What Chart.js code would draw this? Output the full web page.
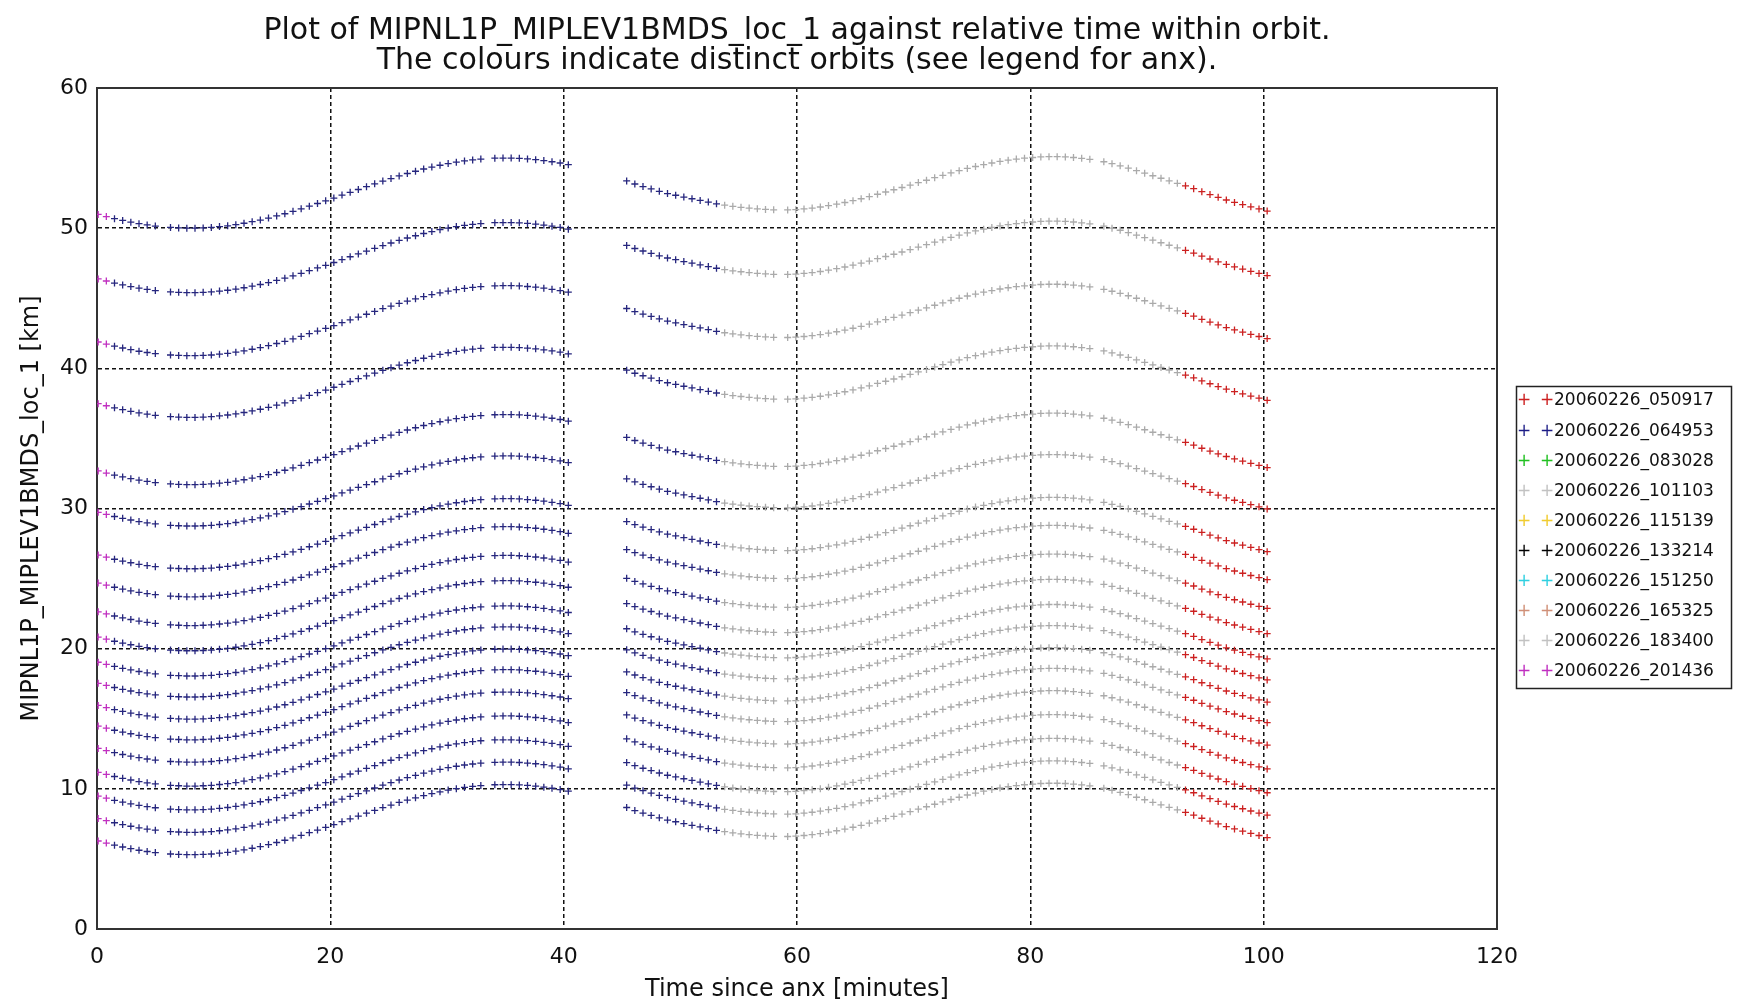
<!DOCTYPE html>
<html>
<head>
<meta charset="utf-8">
<title>MIPNL1P_MIPLEV1BMDS_loc_1</title>
<script src="https://cdn.jsdelivr.net/npm/chart.js@4.4.1/dist/chart.umd.min.js"></script>
<style>
html, body { margin: 0; padding: 0; background: #fff; }
#plot { display: block; }
</style>
</head>
<body>
<canvas id="plot" width="1763" height="1005"></canvas>
<script>
const titleLines = [
    "Plot of MIPNL1P_MIPLEV1BMDS_loc_1 against relative time within orbit.",
    "The colours indicate distinct orbits (see legend for anx)."
]

// orbits (anx) shown in the legend
const orbitIds = [
    "20060226_050917", "20060226_064953", "20060226_083028", "20060226_101103", "20060226_115139",
    "20060226_133214", "20060226_151250", "20060226_165325", "20060226_183400", "20060226_201436"
]
const orbitColours = ["#cc2020", "#1c1c86", "#22c022", "#c2c2c2", "#f0cc30", "#000000", "#30d0e0", "#d09078", "#c2c2c2", "#c030c0"]

// tangent height of each sweep at the bottom of the wave [km]
const levels = [50.0, 45.4, 40.9, 36.5, 31.7, 28.75, 25.7, 23.7, 21.65, 19.85, 18.05, 16.55, 14.97, 13.5, 11.9, 10.2, 8.5, 6.9, 5.3]

// scan times since anx [minutes] and the height change along the orbit [km]
const times = [
    0.1, 0.8, 1.5, 2.2, 2.9, 3.6, 4.3, 5.0,
    6.3, 7.0, 7.7, 8.4, 9.1, 9.8, 10.5, 11.2, 11.9, 12.6, 13.3, 14.0, 14.7, 15.4, 16.1, 16.8, 17.5, 18.2, 18.9, 19.6,
    20.3, 21.0, 21.7, 22.4, 23.1, 23.8, 24.5, 25.2, 25.9, 26.6, 27.3, 28.0, 28.7, 29.4, 30.1, 30.8, 31.5, 32.2, 32.9,
    34.1, 34.8, 35.5, 36.2, 36.9, 37.6, 38.3, 39.0, 39.7, 40.4,
    45.4, 46.1, 46.8, 47.5, 48.2, 48.9, 49.6, 50.3, 51.0, 51.7, 52.4, 53.1,
    53.8, 54.5, 55.2, 55.9, 56.6, 57.3, 58.0,
    59.2, 59.9, 60.6, 61.3, 62.0, 62.7, 63.4, 64.1, 64.8, 65.5, 66.2, 66.9, 67.6, 68.3, 69.0, 69.7, 70.4, 71.1, 71.8,
    72.5, 73.2, 73.9, 74.6, 75.3, 76.0, 76.7, 77.4, 78.1, 78.8, 79.5, 80.2, 80.9, 81.6, 82.3, 83.0, 83.7, 84.4, 85.1,
    86.3, 87.0, 87.7, 88.4, 89.1, 89.8, 90.5, 91.2, 91.9, 92.6,
    93.3, 94.0, 94.7, 95.4, 96.1, 96.8, 97.5, 98.2, 98.9, 99.6, 100.3
]
const offsets = [
    0.98, 0.83, 0.68, 0.55, 0.43, 0.32, 0.23, 0.15,
    0.05, 0.02, 0.00, 0.00, 0.02, 0.05, 0.11, 0.17, 0.25, 0.35, 0.46, 0.58, 0.72, 0.87, 1.03, 1.20, 1.38, 1.57, 1.76, 1.95,
    2.15, 2.36, 2.56, 2.76, 2.96, 3.16, 3.36, 3.54, 3.73, 3.90, 4.06, 4.22, 4.36, 4.49, 4.61, 4.71, 4.80, 4.87, 4.93,
    4.99, 5.00, 5.00, 4.98, 4.94, 4.89, 4.82, 4.74, 4.65, 4.53,
    3.37, 3.15, 2.97, 2.80, 2.63, 2.47, 2.35, 2.22, 2.10, 1.98, 1.86, 1.74,
    1.64, 1.56, 1.49, 1.43, 1.38, 1.34, 1.31,
    1.30, 1.32, 1.37, 1.43, 1.51, 1.61, 1.71, 1.83, 1.96, 2.10, 2.25, 2.42, 2.58, 2.74, 2.90, 3.07, 3.25, 3.42, 3.60,
    3.77, 3.94, 4.10, 4.26, 4.40, 4.53, 4.65, 4.76, 4.85, 4.93, 4.99, 5.04, 5.08, 5.10, 5.10, 5.08, 5.04, 4.98, 4.91,
    4.74, 4.60, 4.45, 4.28, 4.10, 3.92, 3.74, 3.56, 3.38, 3.20,
    3.02, 2.82, 2.60, 2.40, 2.20, 2.01, 1.84, 1.68, 1.52, 1.37, 1.22
]

// which orbit is seen on top over each stretch: [orbit index, from, to] in minutes
const coverage = [[9, 0.1, 0.8], [1, 1.5, 53.1], [8, 53.8, 92.6], [0, 93.3, 100.3]]

Chart.defaults.font.family = '"DejaVu Sans", sans-serif'
Chart.defaults.color = "#111"

const markerColours = orbitColours.slice()
markerColours[1] = "#26267e"
markerColours[8] = "#aaaaaa"

const datasets = coverage.map(([orbit, from, to]) => {
    const pts = []
    levels.forEach(level => {
        times.forEach((t, i) => {
            if (t >= from && t <= to) pts.push({x: t, y: +(level + offsets[i]).toFixed(2)})
        })
    })
    return {
        label: "+" + orbitIds[orbit],
        data: pts,
        showLine: false,
        pointStyle: "cross",
        pointRadius: 3.5,
        pointBorderWidth: 1.3,
        borderColor: markerColours[orbit],
        backgroundColor: markerColours[orbit]
    }
})

const frame = {
    id: "frame",
    beforeDatasetsDraw(chart){
        const {ctx, chartArea: a} = chart
        ctx.save()
        ctx.strokeStyle = "#333"
        ctx.lineWidth = 2
        ctx.strokeRect(a.left, a.top, a.right - a.left, a.bottom - a.top)
        ctx.restore()
    }
}

const orbitLegend = {
    id: "orbitLegend",
    afterDraw(chart){
        const ctx = chart.ctx
        ctx.save()
        ctx.strokeStyle = "#222"
        ctx.lineWidth = 1.5
        ctx.strokeRect(1516.5, 386.5, 215, 302)
        ctx.font = '17px "DejaVu Sans"'
        ctx.textBaseline = "middle"
        orbitIds.forEach((id, i) => {
            const y = 401 + i * 30.1
            ctx.fillStyle = orbitColours[i]
            ctx.fillText("+", 1517, y)
            ctx.fillText("+", 1540, y)
            ctx.fillStyle = "#111"
            ctx.fillText(id, 1554, y)
        })
        ctx.restore()
    }
}

new Chart(document.querySelector("#plot"), {
    type: "scatter",
    data: { datasets },
    options: {
        responsive: false,
        animation: false,
        events: [],
        layout: { padding: { left: 0, right: 266, top: 0, bottom: 0 } },
        plugins: {
            legend: { display: false },
            tooltip: { enabled: false },
            title: {
                display: true,
                fullSize: false,
                text: titleLines,
                color: "#111",
                font: { size: 30, weight: "normal", lineHeight: 1 },
                padding: { top: 16, bottom: 12 }
            }
        },
        scales: {
            x: {
                type: "linear",
                min: 0,
                max: 120,
                ticks: { stepSize: 20, padding: 15, font: { size: 22 } },
                grid: { color: "#111", lineWidth: 1.5, drawTicks: false },
                border: { color: "#333", width: 2, dash: [4, 3] },
                title: { display: true, text: "Time since anx [minutes]", font: { size: 24 }, padding: { top: 0, bottom: 1 } },
                afterFit: s => { s.height = 76 }
            },
            y: {
                min: 0,
                max: 60,
                ticks: { stepSize: 10, padding: 9, font: { size: 22 } },
                grid: { color: "#111", lineWidth: 1.5, drawTicks: false },
                border: { color: "#333", width: 2, dash: [4, 3] },
                title: { display: true, text: "MIPNL1P_MIPLEV1BMDS_loc_1 [km]", font: { size: 24 }, padding: { top: 17, bottom: 0 } },
                afterFit: s => { s.width = 97 }
            }
        }
    },
    plugins: [frame, orbitLegend]
})
</script>
</body>
</html>
